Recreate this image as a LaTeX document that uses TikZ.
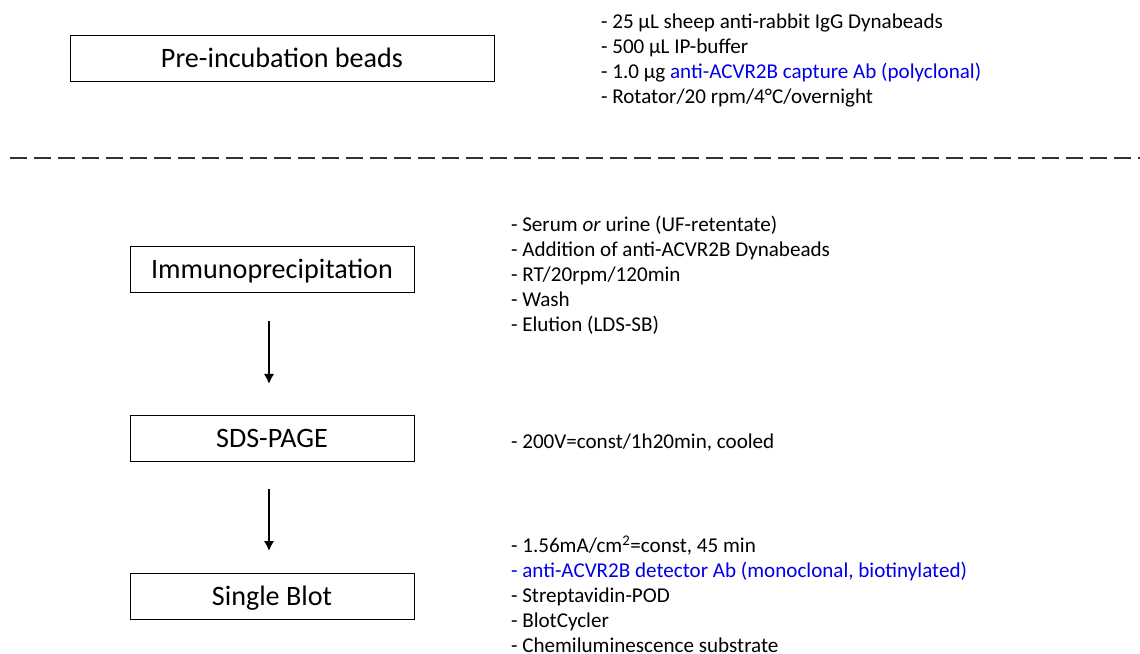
\documentclass[tikz,border=0pt]{standalone}
\usepackage{fontspec}
\setmainfont{Carlito}
\usetikzlibrary{arrows.meta}
\definecolor{abblue}{RGB}{0,0,230}
\tikzset{
	etapa/.style={draw, line width=0.6pt, minimum width=7.1cm, minimum height=1.15cm, inner sep=0pt, text height=16pt, text depth=3.1pt, font=\fontsize{20}{24}\selectfont},
	lista/.style={anchor=north west, align=left, inner sep=0pt, font=\fontsize{15}{17.8}\selectfont},
	seta/.style={line width=1.4pt, -{Latex[length=2.5mm,width=2.6mm]}}
}
\begin{document}
\begin{tikzpicture}
\useasboundingbox (0,0) rectangle (28.5,-16.35);

% Pre-incubacao
\node[etapa, minimum width=10.6cm] (pre) at (7.05,-1.45) {Pre-incubation beads};
\node[lista] (preL) at (15.02,-0.35) {- 25 µL sheep anti-rabbit IgG Dynabeads\\
	- 500 µL IP-buffer\\
	- 1.0 µg \textcolor{abblue}{anti-ACVR2B capture Ab (polyclonal)}\\
	- Rotator/20 rpm/4°C/overnight};

% Linha tracejada
\draw[line width=1pt, black!80, dash pattern=on 0.425cm off 0.175cm] (0.25,-3.95) -- (28.5,-3.95);

% Etapas
\node[etapa] (ip) at (6.8,-6.725) {Immunoprecipitation};
\node[lista] (ipL) at (12.77,-5.40) {- Serum \textit{or} urine (UF-retentate)\\
	- Addition of anti-ACVR2B Dynabeads\\
	- RT/20rpm/120min\\
	- Wash\\
	- Elution (LDS-SB)};

\node[etapa] (sds) at (6.8,-10.95) {SDS-PAGE};
\node[lista] (sdsL) at (12.77,-10.85) {- 200V=const/1h20min, cooled};

\node[etapa] (blot) at (6.8,-14.9) {Single Blot};
\node[lista] (blotL) at (12.77,-13.38) {- 1.56mA/cm\textsuperscript{2}=const, 45 min\\
	\textcolor{abblue}{- anti-ACVR2B detector Ab (monoclonal, biotinylated)}\\
	- Streptavidin-POD\\
	- BlotCycler\\
	- Chemiluminescence substrate};

% Setas
\coordinate (s1) at (6.725,-8.025);
\coordinate (e1) at (6.725,-9.6);
\coordinate (s2) at (6.725,-12.225);
\coordinate (e2) at (6.725,-13.775);
\draw[seta] (s1) -- (e1);
\draw[seta] (s2) -- (e2);

\end{tikzpicture}
\end{document}
